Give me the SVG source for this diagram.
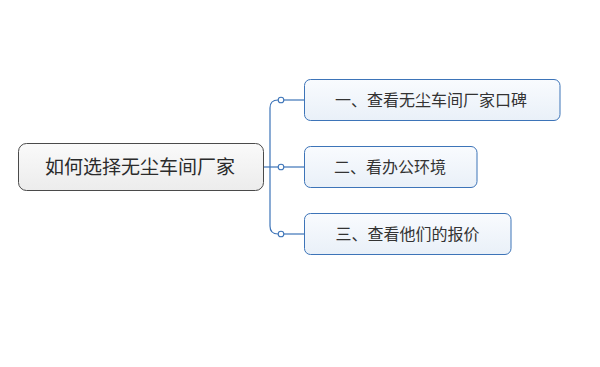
<svg xmlns="http://www.w3.org/2000/svg" width="600" height="367" viewBox="0 0 600 367">
<defs>
<linearGradient id="gRoot" x1="0" y1="0" x2="0" y2="1">
<stop offset="0" stop-color="#fafafa"/>
<stop offset="1" stop-color="#ececec"/>
</linearGradient>
<linearGradient id="gChild" x1="0" y1="0" x2="0" y2="1">
<stop offset="0" stop-color="#f9fbfe"/>
<stop offset="1" stop-color="#e9f0f8"/>
</linearGradient>
</defs>
<style>
.root{fill:url(#gRoot);stroke:#4a4a4a;stroke-width:1}
.child{fill:url(#gChild);stroke:#3d74b8;stroke-width:1}
.rt{font-family:"Liberation Sans","Noto Sans CJK SC",sans-serif;font-size:19px;fill:#2b2b2b;text-anchor:middle}
.ct{font-family:"Liberation Sans","Noto Sans CJK SC",sans-serif;font-size:16px;fill:#333333;text-anchor:middle}
.ln{fill:none;stroke:#3d74b8;stroke-width:1.2}
.dot{fill:#ffffff;stroke:#3d74b8;stroke-width:1.1}
</style>
<rect width="600" height="367" fill="#ffffff"/>
<g id="connectors">
<path class="ln" d="M263,167 H270"/>
<path class="ln" d="M281,100 H278 Q270,100 270,108 V226 Q270,234 278,234 H281"/>
<path class="ln" d="M270,167 H281"/>
<path class="ln" d="M284,100 H305"/>
<path class="ln" d="M284,167 H305"/>
<path class="ln" d="M284,234 H305"/>
<circle class="dot" cx="281" cy="100" r="2.8"/>
<circle class="dot" cx="281" cy="167" r="2.8"/>
<circle class="dot" cx="281" cy="234" r="2.8"/>
</g>
<g id="root">
<rect class="root" x="18.5" y="143.5" width="245" height="47" rx="8"/>
<text class="rt" x="140" y="174">如何选择无尘车间厂家</text>
</g>
<g id="n1">
<rect class="child" x="304.5" y="79.5" width="255.5" height="41" rx="6"/>
<text class="ct" x="431" y="106">一、查看无尘车间厂家口碑</text>
</g>
<g id="n2">
<rect class="child" x="304.5" y="146.5" width="172.5" height="41" rx="6"/>
<text class="ct" x="390" y="173">二、看办公环境</text>
</g>
<g id="n3">
<rect class="child" x="304.5" y="213.5" width="206.5" height="41" rx="6"/>
<text class="ct" x="407.5" y="240">三、查看他们的报价</text>
</g>
</svg>
